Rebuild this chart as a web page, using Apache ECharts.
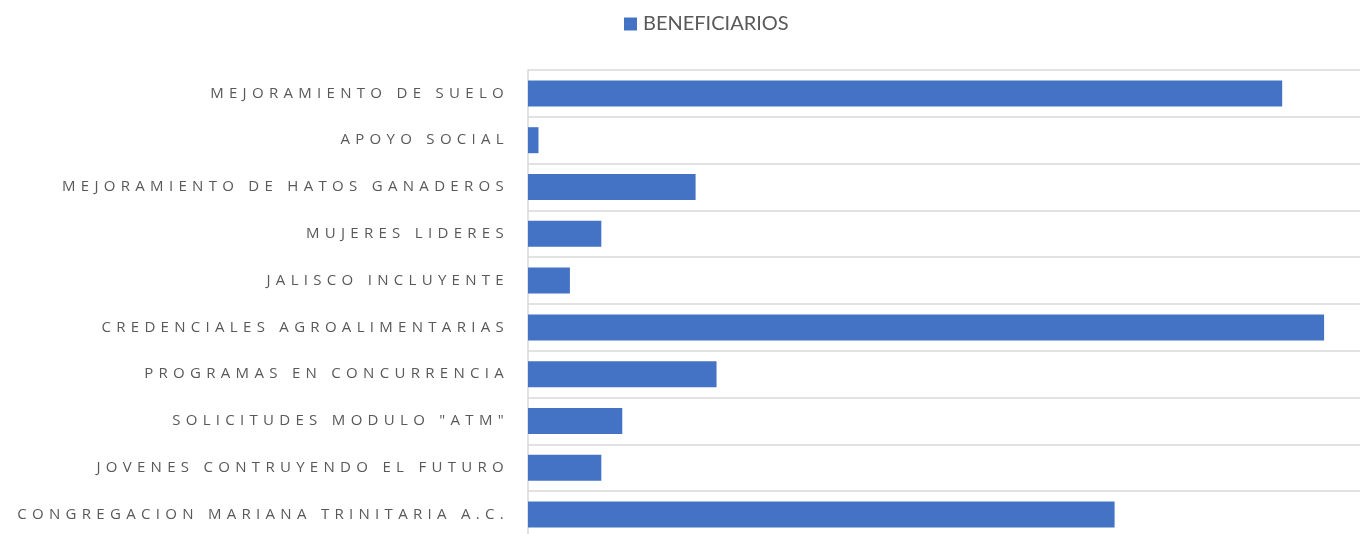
<!DOCTYPE html>
<html>
<head>
<meta charset="utf-8">
<script src="https://cdn.jsdelivr.net/npm/echarts@6/dist/echarts.min.js"></script>
<style>
html,body{margin:0;padding:0;background:#fff;}
#chart{width:1360px;height:534px;}
</style>
</head>
<body>
<div id="chart"></div>
<script>
// Wide letter spacing for the category labels (15px font only)
(function(){
  var d = Object.getOwnPropertyDescriptor(CanvasRenderingContext2D.prototype, 'font');
  if (d && d.set && 'letterSpacing' in CanvasRenderingContext2D.prototype) {
    Object.defineProperty(CanvasRenderingContext2D.prototype, 'font', {
      configurable: true,
      get: function(){ return d.get.call(this); },
      set: function(v){ d.set.call(this, v); this.letterSpacing = /(^|\s)15px/.test(v) ? '5.3px' : '0px'; }
    });
  }
})();

const categories = [
  'MEJORAMIENTO DE SUELO',
  'APOYO SOCIAL',
  'MEJORAMIENTO DE HATOS GANADEROS',
  'MUJERES LIDERES',
  'JALISCO INCLUYENTE',
  'CREDENCIALES AGROALIMENTARIAS',
  'PROGRAMAS EN CONCURRENCIA',
  'SOLICITUDES MODULO "ATM"',
  'JOVENES CONTRUYENDO EL FUTURO',
  'CONGREGACION MARIANA TRINITARIA A.C.'
];
const beneficiarios = [72, 1, 16, 7, 4, 76, 18, 9, 7, 56];
const seriesName = 'BENEFICIARIOS';

const chart = echarts.init(document.getElementById('chart'));
chart.setOption({
  animation: false,
  backgroundColor: '#ffffff',
  legend: {
    left: 619, top: 9,
    itemWidth: 13, itemHeight: 13, itemGap: 10,
    icon: 'rect',
    textStyle: { fontFamily: 'Lato', fontSize: 20, color: '#595959', padding: [0,0,0,1] },
    data: [seriesName]
  },
  grid: { left: 528, top: 70, width: 838, height: 468, containLabel: false, outerBoundsMode: 'none' },
  xAxis: {
    type: 'value', min: 0, max: 80,
    axisLabel: { show: false }, axisLine: { show: false }, axisTick: { show: false },
    splitLine: { show: false }
  },
  yAxis: {
    type: 'category', inverse: true, data: categories,
    axisLine: { show: true, lineStyle: { color: '#D9D9D9', width: 1.5 } },
    axisTick: { show: false },
    splitLine: { show: true, interval: 0, lineStyle: { color: '#D9D9D9', width: 1.5 } },
    axisLabel: { interval: 0, fontFamily: 'Open Sans', fontSize: 15, color: '#595959', margin: 19 }
  },
  series: [{
    name: seriesName, type: 'bar', data: beneficiarios,
    barWidth: 26,
    itemStyle: { color: '#4472C4' }
  }]
});
</script>
</body>
</html>
